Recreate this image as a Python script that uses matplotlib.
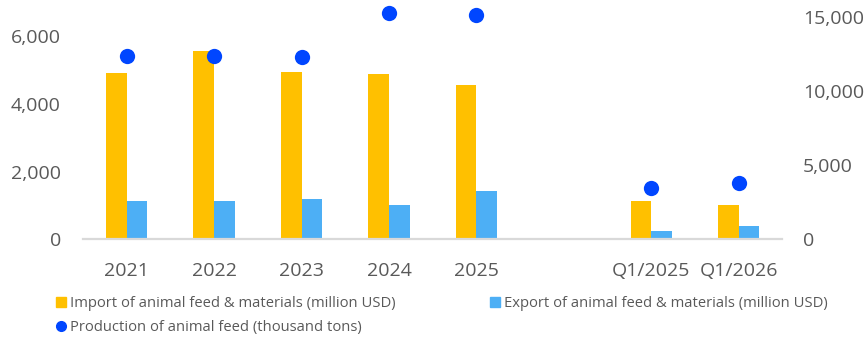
import matplotlib
matplotlib.use("Agg")
import matplotlib.pyplot as plt
from matplotlib.lines import Line2D
import numpy as np

plt.rcParams['font.family'] = ['Open Sans', 'DejaVu Sans']

# Data
categories = ["2021", "2022", "2023", "2024", "2025", "Q1/2025", "Q1/2026"]
import_musd = [4925, 5575, 4945, 4886, 4561, 1141, 1005]
export_musd = [1123, 1123, 1182, 1014, 1419, 254, 402]
production_kt = [12385, 12385, 12340, 15270, 15135, 3446, 3804]

left_ticks = [0, 2000, 4000, 6000]
right_ticks = [0, 5000, 10000, 15000]

label_import = "Import of animal feed & materials (million USD)"
label_export = "Export of animal feed & materials (million USD)"
label_prod = "Production of animal feed (thousand tons)"

c_import = "#FFC000"
c_export = "#4DAFF5"
c_prod = "#0046FF"
c_text = "#595959"

# Annual groups first, then a blank slot before the quarterly groups
x = np.array([i if i < 5 else i + 1 for i in range(len(categories))], dtype=float)
bw = 0.237

fig = plt.figure(figsize=(8.68, 3.37), dpi=100)
ax = fig.add_axes([0.0956, 0.2899, 0.8058, 0.7027])
ax2 = ax.twinx()

ax.bar(x - bw / 2, import_musd, width=bw, color=c_import, zorder=2)
ax.bar(x + bw / 2, export_musd, width=bw, color=c_export, zorder=2)
ax2.plot(x, production_kt, linestyle="none", marker="o", markersize=11,
         color=c_prod, markeredgewidth=0, zorder=3)

ax.set_xlim(-0.5, 7.5)
ax.set_ylim(0, 7000)
ax2.set_ylim(0, 16000)

ax.set_xticks(x)
ax.set_xticklabels(categories)
ax.set_yticks(left_ticks)
ax.set_yticklabels([f"{v:,}" for v in left_ticks])
ax2.set_yticks(right_ticks)
ax2.set_yticklabels([f"{v:,}" for v in right_ticks])

for a in (ax, ax2):
    for s in a.spines.values():
        s.set_visible(False)
    a.tick_params(length=0, labelsize=14, labelcolor=c_text)
ax.spines['bottom'].set_visible(True)
ax.spines['bottom'].set_color("#D9D9D9")
ax.spines['bottom'].set_linewidth(1.6)
ax.tick_params(axis='x', pad=16)
ax.tick_params(axis='y', pad=16)
ax2.tick_params(axis='y', pad=15)

handles = [
    Line2D([], [], linestyle="none", marker="s", markersize=7, color=c_import, label=label_import),
    Line2D([], [], linestyle="none", marker="o", markersize=7, color=c_prod, label=label_prod),
    Line2D([], [], linestyle="none", marker="s", markersize=7, color=c_export, label=label_export),
]
leg = fig.legend(handles=handles, ncol=2, loc="upper left",
                 bbox_to_anchor=(0.0645, 0.121), frameon=False,
                 fontsize=10.6, handlelength=0.7, handletextpad=0.25,
                 columnspacing=6.4, labelspacing=0.62, borderpad=0, borderaxespad=0)
for t in leg.get_texts():
    t.set_color(c_text)

fig.savefig("out.png", dpi=100)
